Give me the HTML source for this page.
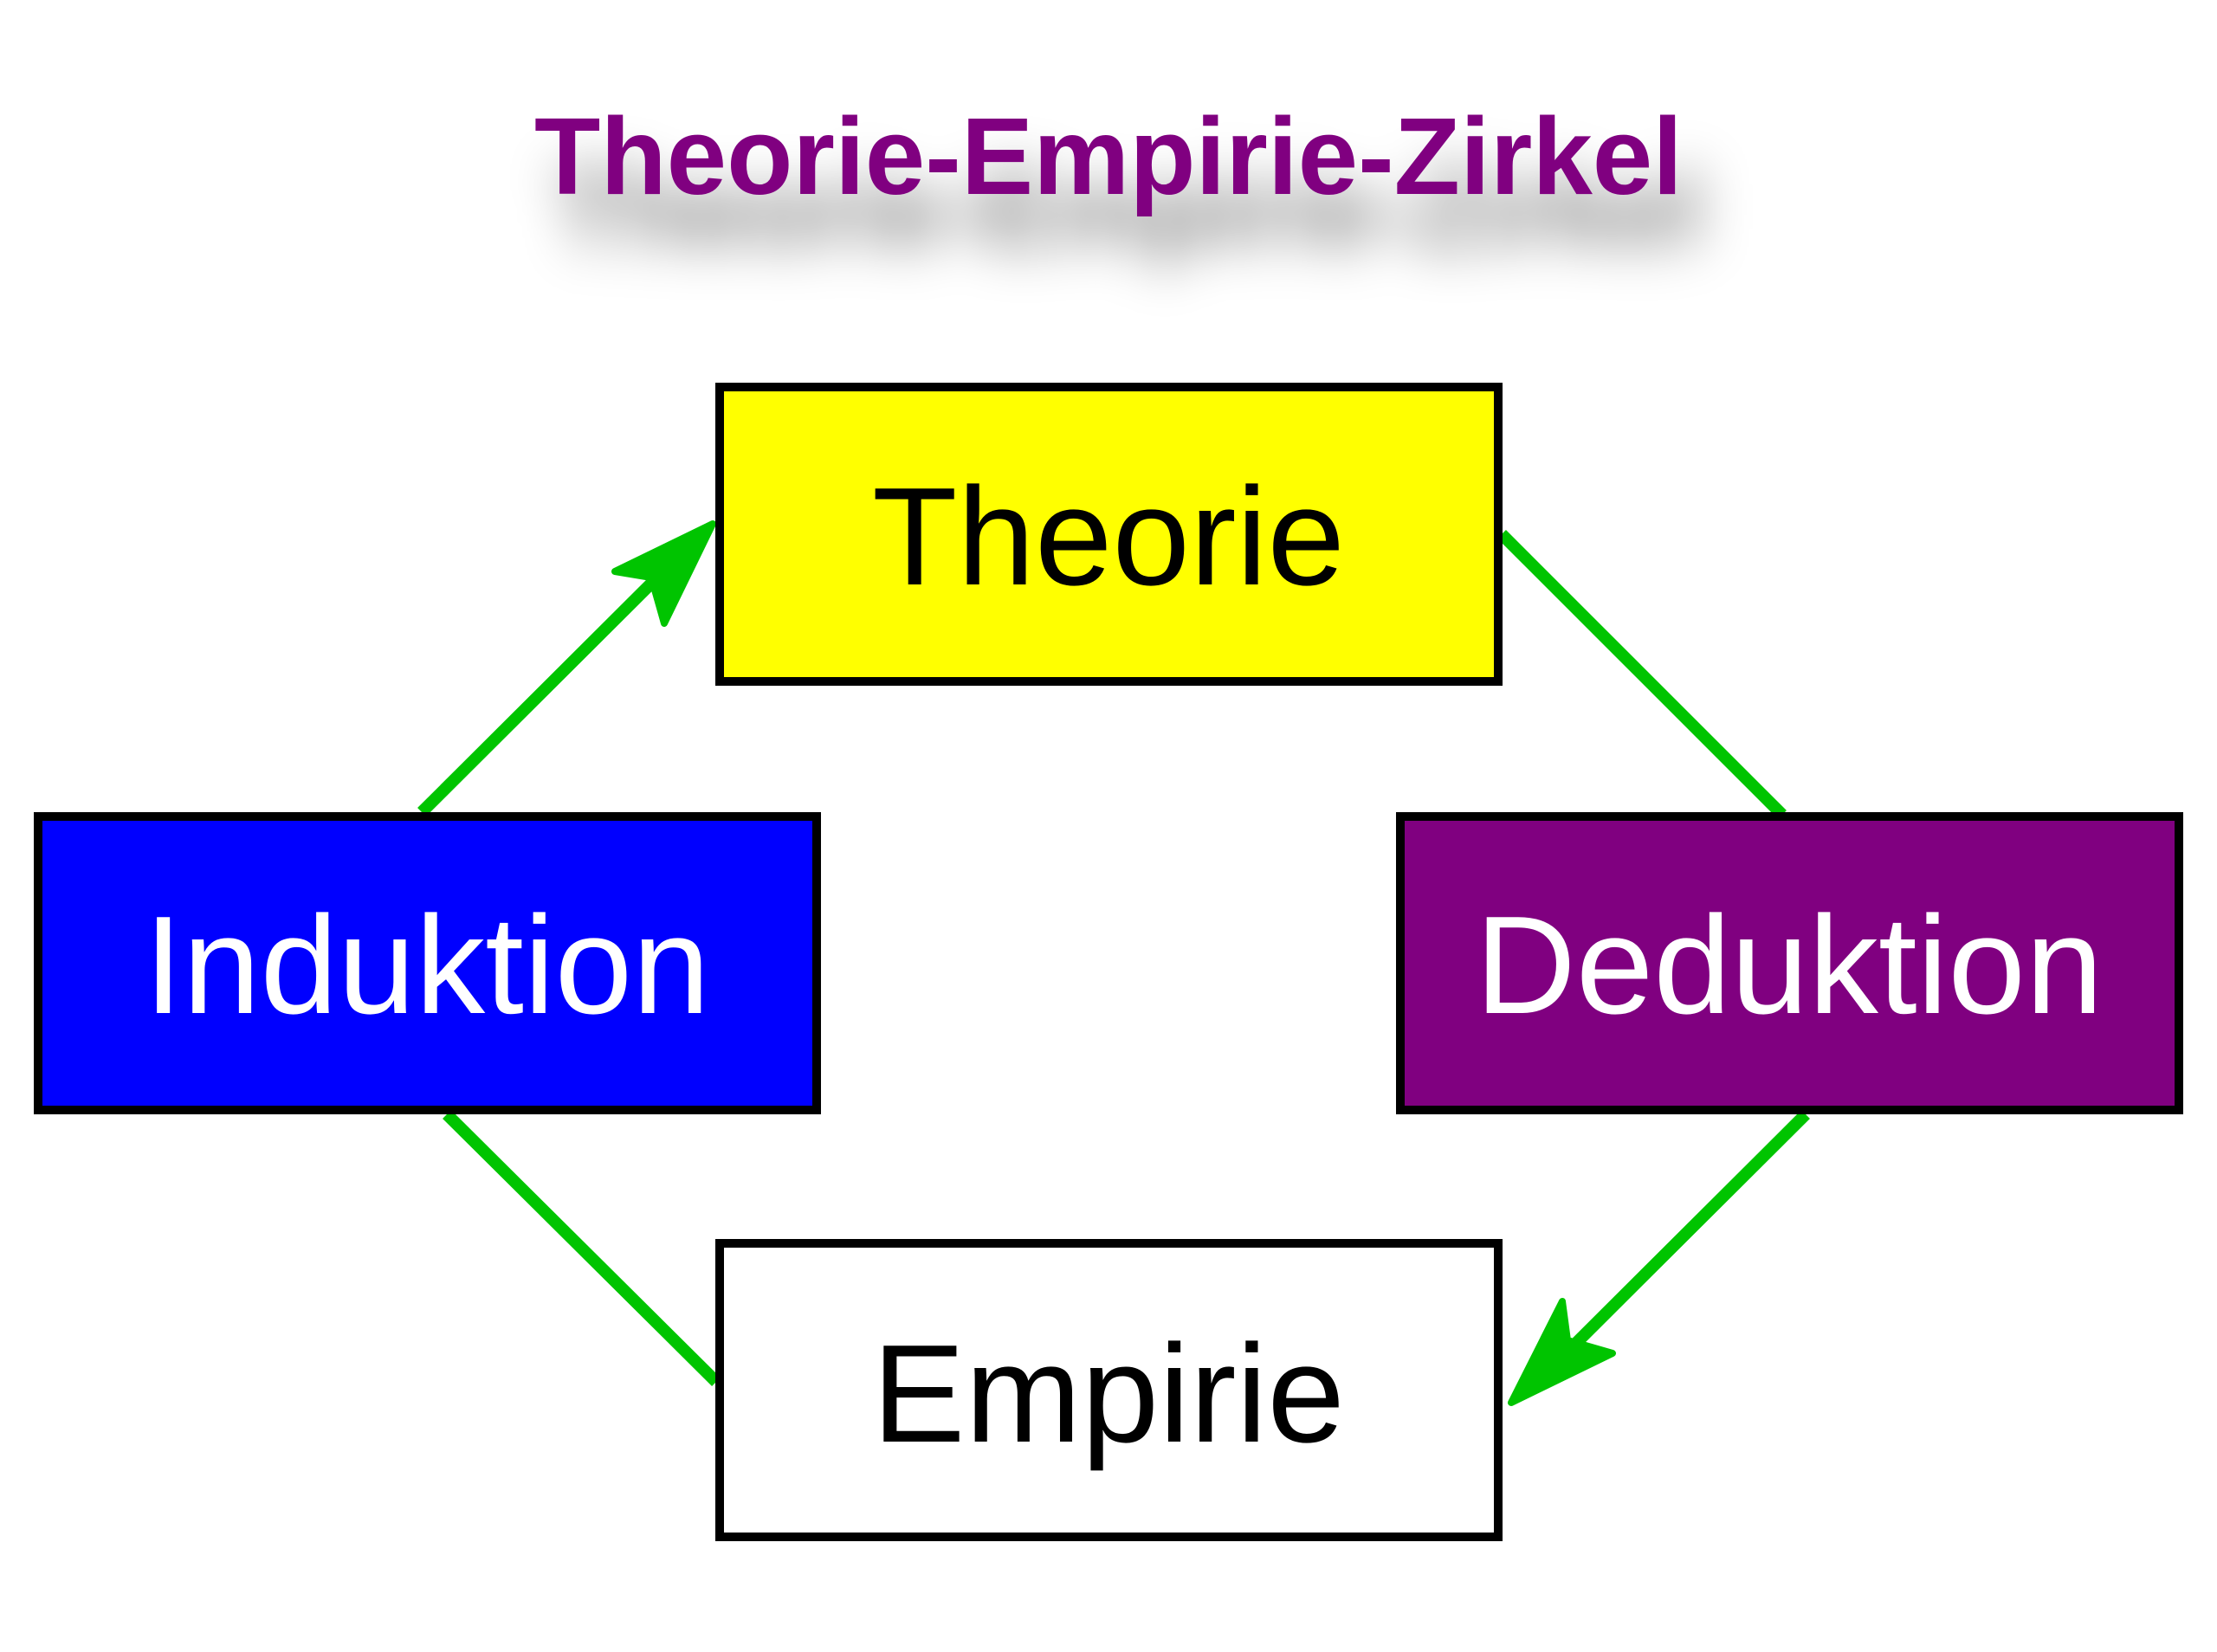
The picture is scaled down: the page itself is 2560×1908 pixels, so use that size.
<!DOCTYPE html>
<html><head><meta charset="utf-8"><style>
html,body{margin:0;padding:0;background:#fff;}
svg{display:block}
</style></head><body>
<svg width="2560" height="1908" viewBox="0 0 2560 1908" xmlns="http://www.w3.org/2000/svg">
<defs>
<filter id="sh" x="-15%" y="-80%" width="130%" height="300%">
<feGaussianBlur stdDeviation="30"/>
</filter>
</defs>
<text x="640" y="285" font-family="Liberation Sans, sans-serif" font-weight="bold" font-size="126" fill="#000" opacity="0.5" textLength="1326" lengthAdjust="spacingAndGlyphs" filter="url(#sh)">Theorie-Empirie-Zirkel</text>
<text x="617" y="224" font-family="Liberation Sans, sans-serif" font-weight="bold" font-size="126" fill="#800080" textLength="1326" lengthAdjust="spacingAndGlyphs">Theorie-Empirie-Zirkel</text>

<g stroke="#00c400" stroke-width="14" fill="none">
<line x1="487" y1="938" x2="790" y2="636"/>
<line x1="1734" y1="617" x2="2058" y2="941"/>
<line x1="2085" y1="1287" x2="1775" y2="1596"/>
<line x1="516" y1="1287" x2="827" y2="1596"/>
</g>
<polygon points="823,605 710,660 752,667 767,720" fill="#00c400" stroke="#00c400" stroke-width="8" stroke-linejoin="round"/>
<polygon points="1745,1620 1804,1503 1810,1548 1862,1563" fill="#00c400" stroke="#00c400" stroke-width="8" stroke-linejoin="round"/>

<g stroke="#000" stroke-width="10">
<rect x="831" y="447" width="899" height="340" fill="#ffff00"/>
<rect x="44" y="943" width="899" height="339" fill="#0000ff"/>
<rect x="1617" y="943" width="899" height="339" fill="#800080"/>
<rect x="831" y="1436" width="899" height="339" fill="#ffffff"/>
</g>
<g font-family="Liberation Sans, sans-serif" font-size="161" text-anchor="middle">
<text x="1280" y="675" fill="#000">Theorie</text>
<text x="493" y="1170" fill="#fff">Induktion</text>
<text x="2066" y="1170" fill="#fff">Deduktion</text>
<text x="1280" y="1665" fill="#000">Empirie</text>
</g>
</svg>
</body></html>
